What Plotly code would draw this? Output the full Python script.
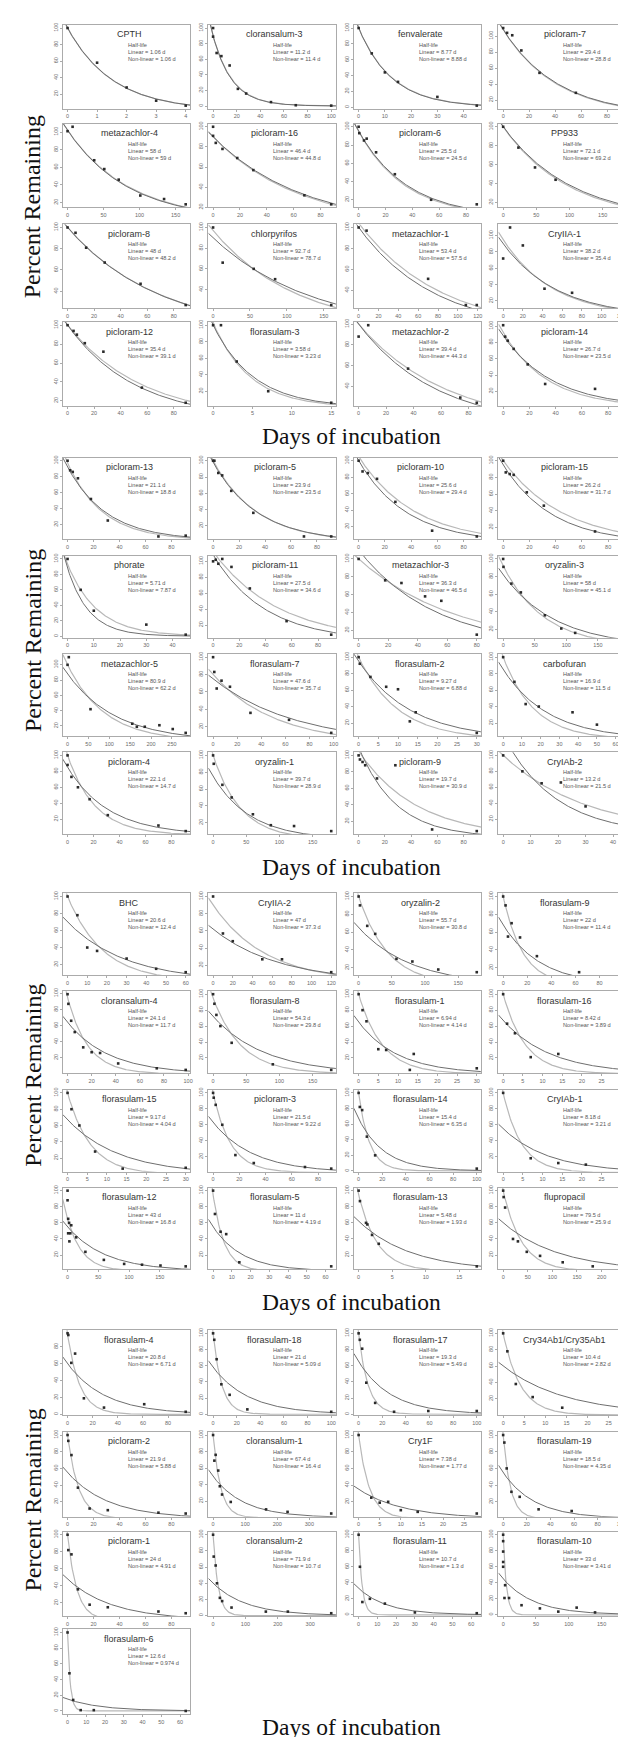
import math
import plotly.graph_objects as go

# ---------------- data ----------------
NAMES = [
    "CPTH", "cloransalum-3", "fenvalerate", "picloram-7",
    "metazachlor-4", "picloram-16", "picloram-6", "PP933",
    "picloram-8", "chlorpyrifos", "metazachlor-1", "CryIIA-1",
    "picloram-12", "florasulam-3", "metazachlor-2", "picloram-14",
    "picloram-13", "picloram-5", "picloram-10", "picloram-15",
    "phorate", "picloram-11", "metazachlor-3", "oryzalin-3",
    "metazachlor-5", "florasulam-7", "florasulam-2", "carbofuran",
    "picloram-4", "oryzalin-1", "picloram-9", "CryIAb-2",
    "BHC", "CryIIA-2", "oryzalin-2", "florasulam-9",
    "cloransalum-4", "florasulam-8", "florasulam-1", "florasulam-16",
    "florasulam-15", "picloram-3", "florasulam-14", "CryIAb-1",
    "florasulam-12", "florasulam-5", "florasulam-13", "flupropacil",
    "florasulam-4", "florasulam-18", "florasulam-17", "Cry34Ab1/Cry35Ab1",
    "picloram-2", "cloransalum-1", "Cry1F", "florasulam-19",
    "picloram-1", "cloransalum-2", "florasulam-11", "florasulam-10",
    "florasulam-6",
]

HALF_LIN = [
    1.06, 11.2, 8.77, 29.4, 58, 46.4, 25.5, 72.1, 48, 92.7, 53.4, 38.2, 35.4, 3.58, 39.4, 26.7,
    21.1, 23.9, 25.6, 26.2, 5.71, 27.5, 36.3, 58, 80.9, 47.6, 9.27, 16.9, 22.1, 39.7, 19.7, 13.2,
    20.6, 47, 55.7, 22, 24.1, 54.3, 6.94, 8.42, 9.17, 21.5, 15.4, 8.18, 43, 11, 5.48, 79.5,
    20.8, 21, 19.3, 10.4, 21.9, 67.4, 7.38, 18.5, 24, 71.9, 10.7, 33, 12.6,
]
HALF_NL = [
    1.06, 11.4, 8.88, 28.8, 59, 44.8, 24.5, 69.2, 48.2, 78.7, 57.5, 35.4, 39.1, 3.23, 44.3, 23.5,
    18.8, 23.5, 29.4, 31.7, 7.87, 34.6, 46.5, 45.1, 62.2, 35.7, 6.88, 11.5, 14.7, 28.9, 30.9, 21.5,
    12.4, 37.3, 30.8, 11.4, 11.7, 29.8, 4.14, 3.89, 4.04, 9.22, 6.35, 3.21, 16.8, 4.19, 1.93, 25.9,
    6.71, 5.09, 5.49, 2.82, 5.88, 16.4, 1.77, 4.35, 4.91, 10.7, 1.3, 3.41, 0.974,
]
# fitted starting level (% at day 0) of each curve
START_LIN = [
    100, 90, 100, 108, 102, 90, 95, 100, 100, 90, 100, 90, 100, 100, 100, 88,
    92, 98, 100, 95, 88, 108, 110, 82, 88, 75, 95, 85, 85, 75, 110, 125,
    70, 62, 65, 68, 64, 72, 65, 67, 67, 63, 67, 55, 55, 55, 62, 60,
    60, 58, 65, 60, 55, 50, 35, 55, 48, 40, 33, 45, 15,
]
START_NL = [
    100, 90, 100, 108, 102, 90, 95, 100, 100, 97, 104, 95, 100, 103, 100, 92,
    97, 100, 105, 100, 93, 112, 100, 92, 100, 80, 100, 100, 100, 100, 105, 100,
    100, 90, 100, 100, 95, 95, 100, 100, 100, 100, 100, 100, 65, 95, 95, 100,
    95, 100, 100, 100, 100, 100, 100, 100, 100, 100, 100, 100, 100,
]

DAYS = [
    [0, 1, 2, 3, 4],
    [0, 0, 3, 7, 14, 21, 28, 49, 70, 100],
    [0, 5, 10, 15, 30, 45],
    [0, 3, 7, 14, 28, 56, 91],
    [0, 7, 37, 51, 71, 101, 134, 164],
    [0, 0, 2, 7, 18, 30, 68, 88],
    [0, 0.5, 4, 6, 13, 27, 54, 88],
    [0, 23, 48, 79, 178],
    [0, 6, 14, 28, 55, 89],
    [0, 13, 55, 84, 160],
    [0, 8, 70, 108, 119],
    [0, 7, 20, 42, 70, 120],
    [0, 4.5, 7, 13, 27, 56, 89],
    [0, 1, 3, 7, 15],
    [0, 7, 36, 74, 86],
    [0, 1.5, 3.5, 8, 18.7, 32, 70, 90],
    [0, 2, 4, 8, 18, 31, 70, 91],
    [0, 1, 4, 7, 14, 31, 70, 91],
    [0, 3, 7, 14, 28, 56, 90],
    [0, 2, 5, 8, 18, 31, 70, 90],
    [0, 5, 10, 30, 45],
    [0, 2, 4, 7, 14, 28, 56, 90],
    [0, 18, 29, 45, 56, 80],
    [0, 0.5, 13, 28, 66, 92, 114, 187],
    [0, 3, 55, 155, 166, 185, 220, 252, 283],
    [0, 1, 3, 7, 14, 31, 63, 98],
    [0, 0.3, 3, 7, 10, 13, 14.5, 30],
    [0, 6, 12, 19, 37, 50, 63],
    [0, 0, 3, 8, 17, 31, 70, 91],
    [0, 1, 14, 28, 60, 87, 122, 178],
    [0, 1, 3, 5, 14, 28, 56, 90],
    [0, 7, 14, 21, 30, 43],
    [0, 5, 10, 15, 30, 45, 60],
    [0, 10, 20, 50, 70, 120],
    [0, 2, 13, 25, 57, 81, 120, 178],
    [0, 2, 4, 7, 14, 28, 63, 98],
    [0, 0.7, 3, 6, 13, 20, 27, 42, 74, 98],
    [0, 2, 5, 11, 28, 90, 178],
    [0, 1, 2, 5, 7, 13, 14, 30],
    [0, 1, 3, 7, 14, 30],
    [0, 1, 3, 7, 14, 30],
    [0, 0.5, 2, 7, 17, 31, 70, 90],
    [0, 1, 3, 7, 14, 100],
    [0, 7, 14, 21, 30],
    [0, 0, 1, 2.5, 1, 4.5, 3, 6, 14, 29, 59, 92, 121, 151, 192],
    [0, 1, 4, 7, 14, 63],
    [0, 0.2, 1.1, 1.3, 2, 3, 17.6],
    [0, 1, 4, 20, 30, 48, 75, 121, 182, 240],
    [0, 0.6, 3, 6, 13, 29, 61, 94],
    [0, 1, 3, 7, 14, 29, 100],
    [0, 1, 3, 6.5, 14, 30, 59, 100],
    [0, 1, 3, 7, 14, 28],
    [0, 0.6, 3, 8, 17, 31, 70, 91],
    [0, 4, 8, 16, 21, 28, 55, 165, 232, 368],
    [0, 3, 5, 7, 10, 14, 28],
    [0, 1, 3, 7, 14, 30, 58, 100],
    [0, 0.6, 3, 8, 17, 31, 70, 91],
    [0, 2, 8, 12, 21, 28, 57, 163, 231, 365],
    [0, 0.7, 2, 6, 14, 30, 63],
    [0, 0, 0, 0, 0, 2, 3, 9, 28, 56, 84, 112, 140, 180],
    [0, 1, 3, 7, 14, 63],
]
PERCENT = [
    [100, 58, 28, 12, 6],
    [100, 89, 68, 64, 52, 22, 16, 5, 1, 0.5],
    [100, 68, 44, 32, 13, 2],
    [110, 104, 101, 82, 54, 29, 13],
    [101, 106, 68, 58, 46, 28, 24, 18],
    [100, 91, 84, 78, 69, 57, 32, 23],
    [100, 93, 85, 87, 72, 48, 20, 15],
    [100, 78, 57, 44, 18],
    [100, 95, 81, 67, 47, 27],
    [100, 66, 60, 50, 25],
    [100, 97, 51, 26, 26],
    [72, 110, 88, 35, 30, 15],
    [100, 94, 90, 81, 72, 34, 18],
    [100, 100, 56, 20, 6],
    [88, 99, 57, 29, 24],
    [101, 87, 82, 72, 53, 29, 23, 6],
    [100, 88, 86, 78, 52, 25, 5, 6],
    [100, 100, 85, 82, 63, 36, 7, 7],
    [100, 87, 85, 78, 50, 15, 8],
    [100, 86, 84, 83, 62, 46, 15, 9],
    [100, 60, 33, 15, 2],
    [100, 102, 97, 103, 93, 66, 25, 8],
    [100, 76, 73, 58, 53, 15],
    [100, 91, 72, 62, 36, 21, 16, 14],
    [100, 110, 42, 23, 19, 19, 21, 16, 11],
    [100, 83, 64, 73, 66, 36, 28, 13],
    [100, 92, 76, 64, 61, 22, 33, 8],
    [100, 70, 43, 40, 33, 18, 8],
    [100, 88, 73, 60, 45, 25, 12, 5],
    [100, 90, 65, 50, 30, 17, 16, 10],
    [100, 95, 92, 88, 72, 88, 10, 8],
    [100, 80, 65, 66, 36, 5],
    [100, 78, 40, 36, 27, 15, 11],
    [100, 57, 48, 27, 27, 12],
    [100, 90, 67, 58, 30, 27, 18, 15],
    [100, 90, 55, 70, 54, 33, 15, 15],
    [99, 87, 66, 52, 33, 27, 26, 13, 7, 5],
    [100, 88, 74, 60, 39, 12, 5],
    [100, 80, 66, 31, 30, 5, 25, 7],
    [100, 63, 51, 21, 25, 5],
    [100, 80, 60, 28, 7, 8],
    [100, 94, 85, 60, 22, 12, 7, 5],
    [100, 82, 78, 44, 20, 3],
    [100, 18, 12, 10, 5],
    [100, 88, 65, 60, 47, 47, 37, 57, 42, 24, 14, 9, 8, 7, 6],
    [100, 71, 49, 46, 11, 6],
    [100, 87, 60, 58, 45, 34, 6],
    [100, 92, 79, 40, 37, 24, 19, 11, 6, 10],
    [96, 94, 61, 72, 19, 8, 12, 3],
    [100, 92, 68, 37, 24, 6, 3],
    [100, 92, 81, 39, 14, 3, 4, 4],
    [100, 78, 38, 22, 9, 4],
    [100, 93, 76, 37, 12, 10, 7, 6],
    [100, 69, 76, 57, 38, 28, 19, 10, 7, 5],
    [100, 25, 19, 20, 10, 8, 6],
    [100, 91, 60, 32, 26, 11, 9, 6],
    [100, 82, 77, 36, 18, 15, 10, 8],
    [100, 73, 62, 40, 22, 18, 10, 5, 5, 3],
    [100, 60, 16, 20, 14, 3, 2],
    [100, 92, 79, 66, 60, 21, 37, 21, 12, 8, 4, 9, 3, 2],
    [100, 48, 14, 1, 1, 0],
]

Y_TITLE = "Percent Remaining"
X_TITLE = "Days of incubation"

# ---------------- layout geometry (pixels) ----------------
W, H = 626, 1737
COL_LEFT = [55, 201, 347, 492]
PLOT_W = 128
GROUPS = [
    dict(tops=[14, 113, 214, 312], h=84, xlab=426, ylab=196),
    dict(tops=[448, 546.5, 645, 743.5], h=82, xlab=858, ylab=631),
    dict(tops=[885, 983, 1082, 1180], h=82, xlab=1295, ylab=1067),
    dict(tops=[1323, 1425, 1525, 1623], h=85, xlab=1721, ylab=1493),
]
LIN_COLOR = "#6e6e6e"
NL_COLOR = "#b8b8b8"
FRAME = "#ababab"


def px(x):
    return x / W


def py(y):
    return 1 - y / H


def nice_step(span):
    d = span / 5.0
    unit = 10 ** math.floor(math.log10(d))
    for m in (1, 2, 5, 10):
        if m * unit >= d / 1.4:
            return m * unit
    return 10 * unit


def fmt(v):
    return f"{v:g}"


fig = go.Figure()
annotations = []
layout_axes = {}

for i, name in enumerate(NAMES):
    g = min(i // 16, 3)
    k = i - 16 * g
    r, c = k // 4, k % 4
    G = GROUPS[g]
    left = COL_LEFT[c]
    top = G["tops"][r]
    h = G["h"]
    n = i + 1
    xs = DAYS[i]
    ys = PERCENT[i]
    xmin, xmax = min(xs), max(xs)
    ymin, ymax = min(ys), max(ys)
    xpad = 0.04 * (xmax - xmin)
    ypad = 0.04 * (ymax - ymin)
    xr = [xmin - xpad, xmax + xpad]
    yr = [ymin - ypad, ymax + ypad]

    xa = "x" if n == 1 else f"x{n}"
    ya = "y" if n == 1 else f"y{n}"

    # fitted first-order decay curves drawn from the printed half-lives
    steps = 160
    tt = [xr[0] + (xr[1] - xr[0]) * j / steps for j in range(steps + 1)]
    lin = [START_LIN[i] * 2 ** (-t / HALF_LIN[i]) for t in tt]
    nl = [START_NL[i] * 2 ** (-t / HALF_NL[i]) for t in tt]
    fig.add_trace(go.Scatter(x=tt, y=nl, mode="lines", xaxis=xa, yaxis=ya,
                             line=dict(color=NL_COLOR, width=1.2), showlegend=False,
                             hoverinfo="skip"))
    fig.add_trace(go.Scatter(x=tt, y=lin, mode="lines", xaxis=xa, yaxis=ya,
                             line=dict(color=LIN_COLOR, width=1.0), showlegend=False,
                             hoverinfo="skip"))
    fig.add_trace(go.Scatter(x=xs, y=ys, mode="markers", xaxis=xa, yaxis=ya,
                             marker=dict(color="#2a2a2a", size=2.6, symbol="square"),
                             showlegend=False, cliponaxis=False))

    common = dict(showgrid=False, zeroline=False, showline=True, mirror=True,
                  linecolor=FRAME, linewidth=1, ticks="outside", ticklen=2,
                  tickcolor=FRAME, tickwidth=0.8,
                  tickfont=dict(family="Liberation Sans", size=5.5, color="#6a6a6a"),
                  tickmode="linear", tick0=0, fixedrange=True)
    layout_axes["xaxis" if n == 1 else f"xaxis{n}"] = dict(
        domain=[px(left), px(left + PLOT_W)], anchor=ya, range=xr,
        dtick=nice_step(xmax - xmin), **common)
    layout_axes["yaxis" if n == 1 else f"yaxis{n}"] = dict(
        domain=[py(top + h), py(top)], anchor=xa, range=yr,
        dtick=nice_step(ymax - ymin), tickangle=-90, **common)

    # title and half-life text
    annotations.append(dict(x=px(left + PLOT_W * 0.52), y=py(top + 9.5), xref="paper", yref="paper",
                            text=name, showarrow=False, xanchor="center", yanchor="middle",
                            font=dict(family="Liberation Sans", size=9, color="#333333")))
    lines = ["Half-life", f"Linear = {fmt(HALF_LIN[i])} d", f"Non-linear = {fmt(HALF_NL[i])} d"]
    for j, t in enumerate(lines):
        annotations.append(dict(x=px(left + PLOT_W * 0.50), y=py(top + 20 + 7 * j),
                                xref="paper", yref="paper", text=t, showarrow=False,
                                xanchor="left", yanchor="middle", borderpad=0,
                                font=dict(family="Liberation Sans", size=5.6, color="#555555")))

for G in GROUPS:
    annotations.append(dict(x=px(345), y=py(G["xlab"]), xref="paper", yref="paper",
                            text=X_TITLE, showarrow=False, xanchor="center", yanchor="middle",
                            font=dict(family="Liberation Serif", size=23.5, color="#111111")))
    annotations.append(dict(x=px(25), y=py(G["ylab"]), xref="paper", yref="paper",
                            text=Y_TITLE, showarrow=False, xanchor="center", yanchor="middle",
                            textangle=-90,
                            font=dict(family="Liberation Serif", size=24, color="#111111")))

fig.update_layout(width=W, height=H, margin=dict(l=0, r=0, t=0, b=0),
                  paper_bgcolor="white", plot_bgcolor="white",
                  annotations=annotations, showlegend=False, **layout_axes)

fig.write_html("out.html")
